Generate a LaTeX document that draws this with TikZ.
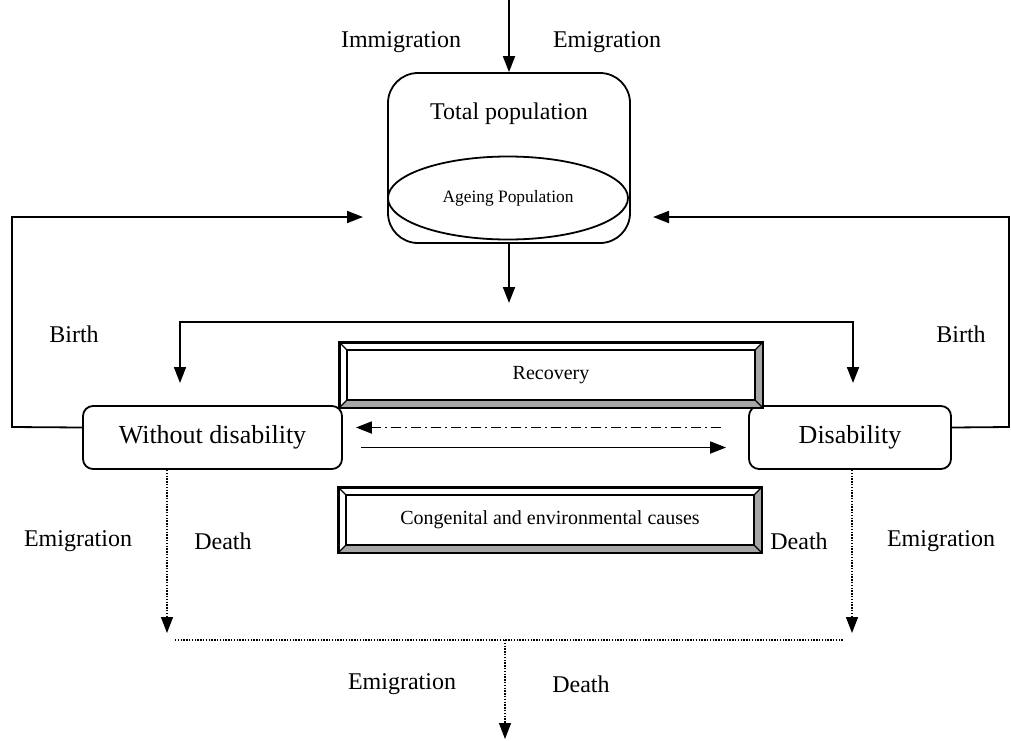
\documentclass[tikz,border=0pt]{standalone}
\usepackage{fontspec}
\setmainfont{Liberation Serif}
\usetikzlibrary{arrows.meta,shapes.geometric}
\definecolor{bevelgrey}{HTML}{A6A6A6}
\tikzset{
    lab/.style={
        font=\fontsize{12}{14}\selectfont
    },
    stock/.style={
        draw, line width=0.9pt, rounded corners=15pt,
        minimum width=121pt, minimum height=85pt
    },
    ageing/.style={
        draw, ellipse, line width=0.9pt, inner sep=0pt,
        minimum width=120pt, minimum height=41.5pt,
        font=\fontsize{8.7}{10}\selectfont
    },
    state/.style={
        draw, line width=0.9pt, rounded corners=5pt,
        minimum height=31.5pt, font=\fontsize{13}{15}\selectfont
    },
    bevelbox/.style={
        draw, fill=white, line width=1pt,
        minimum width=211pt, minimum height=32pt,
        font=\fontsize{10}{12}\selectfont
    },
    flow/.style={line width=0.9pt},
    dashdot/.style={line width=0.9pt, dash pattern=on 5pt off 2pt on 1pt off 2pt},
    dots/.style={line width=0.7pt, dash pattern=on 0.7pt off 0.7pt}
}

\begin{document}
\begin{tikzpicture}[x=0.5pt, y=-0.5pt, >={Triangle[length=8pt,width=6pt]}]
\useasboundingbox (0,0) rectangle (1011,740);

\def\bw{4pt}

% total population
\node[stock] (total) at (509,158) {};
\node[lab] (totaltxt) at (509,114) {Total population};
\node[ageing] (ageing) at (508,198) {Ageing Population};

% states
\node[state, minimum width=129.5pt] (nodis) at (212.5,437.5) {Without disability};
\node[state, minimum width=101pt] (dis) at (850,437.5) {Disability};

% transition boxes
\node[bevelbox] (recovery) at (551,375) {Recovery};
\node[bevelbox] (causes) at (550,520) {Congenital and environmental causes};
\foreach \b in {recovery,causes} {
  \fill[bevelgrey] (\b.south west) -- (\b.south east) -- (\b.north east)
    -- ([shift={(-\bw,-\bw)}]\b.north east) -- ([shift={(-\bw,\bw)}]\b.south east)
    -- ([shift={(\bw,\bw)}]\b.south west) -- cycle;
  \draw[line width=0.8pt] ([shift={(\bw,\bw)}]\b.south west) rectangle ([shift={(-\bw,-\bw)}]\b.north east);
  \foreach \c/\dx/\dy in {south west/1/1, south east/-1/1, north east/-1/-1, north west/1/-1}
    \draw[line width=0.6pt] (\b.\c) -- ++(\dx*\bw, \dy*\bw);
  \draw[line width=1pt] (\b.south west) rectangle (\b.north east);
}

% free ends
\coordinate (topin) at (509,0);
\coordinate (split) at (509,303);
\coordinate (bus) at (509,322);
\coordinate (birthA) at (180,383);
\coordinate (birthB) at (853,383);
\coordinate (birthL) at (363,217);
\coordinate (birthR) at (653,217);
\coordinate (deathL) at (167,633);
\coordinate (deathR) at (852,633);
\coordinate (outL) at (175,640);
\coordinate (outR) at (843,640);
\coordinate (out) at (505,640);
\coordinate (exit) at (505,739);

% inflow and births
\draw[flow, ->] (topin) -- (total.north);
\draw[flow, ->] (total.south) -- (split);
\draw[flow, <->] (birthA) -- (birthA |- bus) -- (birthB |- bus) -- (birthB);
\draw[flow, ->] ([yshift=5pt]nodis.west) -- (12,427) -- (12,217) -- (birthL);
\draw[flow, ->] ([yshift=5pt]dis.east) -- (1009,427) -- (1009,217) -- (birthR);

% transitions
\draw[dashdot, ->] ([xshift=-13.5pt,yshift=5pt]dis.west) -- ([xshift=6.5pt,yshift=5pt]nodis.east);
\draw[flow, ->] ([xshift=9pt,yshift=-5pt]nodis.east) -- ([xshift=-11pt,yshift=-5pt]dis.west);

% outflows
\draw[dots, ->] (deathL |- nodis.south) -- (deathL);
\draw[dots, ->] (deathR |- dis.south) -- (deathR);
\draw[dots] (outL) -- (outR);
\draw[dots, ->] (out) -- (exit);

% labels
\node[lab] (imm) at (401,42) {Immigration};
\node[lab] (emtop) at (607,42) {Emigration};
\node[lab] (birthl) at (74,334) {Birth};
\node[lab] (birthr) at (961,334) {Birth};
\node[lab] (eml) at (78,541) {Emigration};
\node[lab] (deathl) at (223,541) {Death};
\node[lab] (deathr) at (799,541) {Death};
\node[lab] (emr) at (941,541) {Emigration};
\node[lab] (embot) at (402,684) {Emigration};
\node[lab] (deathbot) at (581,684) {Death};

\end{tikzpicture}
\end{document}
